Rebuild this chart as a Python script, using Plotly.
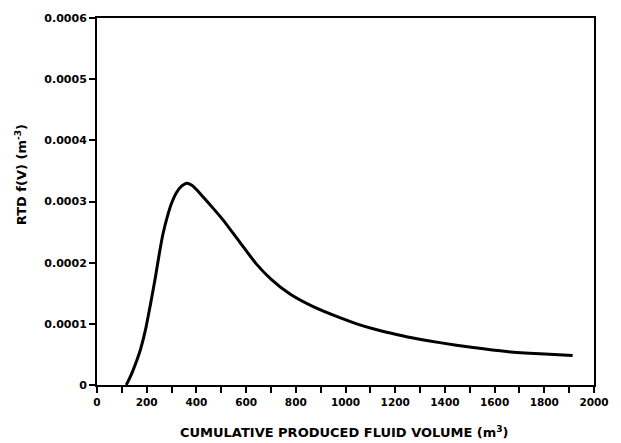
import plotly.graph_objects as go

# Residence time distribution: cumulative produced volume (m3) vs f(V) (m-3)
volume = [117.6, 130, 145, 160, 175, 195, 218, 235, 250, 265, 285, 300, 319, 340,
          362, 380, 399, 430, 465, 507, 570, 641, 700, 775, 870, 977, 1045, 1111,
          1180, 1245, 1379, 1514, 1648, 1782, 1914]
rtd = [0.0, 0.000010, 0.000024, 0.000040, 0.000058, 0.000090, 0.000138, 0.000176,
       0.000213, 0.000246, 0.000278, 0.000297, 0.000314, 0.000325, 0.000330,
       0.000327, 0.000320, 0.000306, 0.000290, 0.000270, 0.000236, 0.000198,
       0.000173, 0.000149, 0.000128, 0.000110, 0.000100, 0.000092, 0.000085,
       0.000079, 0.0000693, 0.0000612, 0.0000547, 0.0000510, 0.0000483]

x_ticks = list(range(0, 2001, 200))
y_ticks = [0, 0.0001, 0.0002, 0.0003, 0.0004, 0.0005, 0.0006]
y_labels = ["0", "0.0001", "0.0002", "0.0003", "0.0004", "0.0005", "0.0006"]

font_family = "DejaVu Sans, Liberation Sans, Arial, sans-serif"

fig = go.Figure()
fig.add_trace(go.Scatter(
    x=volume, y=rtd, mode="lines",
    line=dict(color="black", width=3, shape="spline", smoothing=0.6),
    showlegend=False, hoverinfo="skip",
))

fig.update_layout(
    width=621, height=443,
    margin=dict(l=97, r=27, t=15, b=58),
    paper_bgcolor="white", plot_bgcolor="white",
    font=dict(family=font_family, color="black", size=11),
)

fig.update_xaxes(
    range=[0, 2000], tickvals=x_ticks, ticktext=[str(v) for v in x_ticks],
    ticks="outside", ticklen=6, tickwidth=2, tickcolor="black",
    minor=dict(dtick=100, ticks="outside", ticklen=6, tickwidth=2, tickcolor="black",
               showgrid=False),
    showline=True, linecolor="black", linewidth=2, mirror=True,
    showgrid=False, zeroline=False,
    tickfont=dict(family=font_family, size=10.5, color="black", weight="bold"),
)
fig.update_yaxes(
    range=[0, 0.0006], tickvals=y_ticks, ticktext=y_labels,
    ticks="outside", ticklen=6, tickwidth=2, tickcolor="black",
    showline=True, linecolor="black", linewidth=2, mirror=True,
    showgrid=False, zeroline=False,
    tickfont=dict(family=font_family, size=11, color="black", weight="bold"),
)

# Axis titles
fig.add_annotation(
    text="<b>CUMULATIVE PRODUCED FLUID VOLUME (m<sup>3</sup>)</b>",
    xref="paper", yref="paper", x=0.498, y=-0.127,
    xanchor="center", yanchor="middle", showarrow=False,
    font=dict(family=font_family, size=13, color="black"),
)
fig.add_annotation(
    text="<b>RTD f(V) (m<sup>-3</sup>)</b>",
    xref="paper", yref="paper", x=-0.153, y=0.574, textangle=-90,
    xanchor="center", yanchor="middle", showarrow=False,
    font=dict(family=font_family, size=13, color="black"),
)

fig.write_html("out.html")
